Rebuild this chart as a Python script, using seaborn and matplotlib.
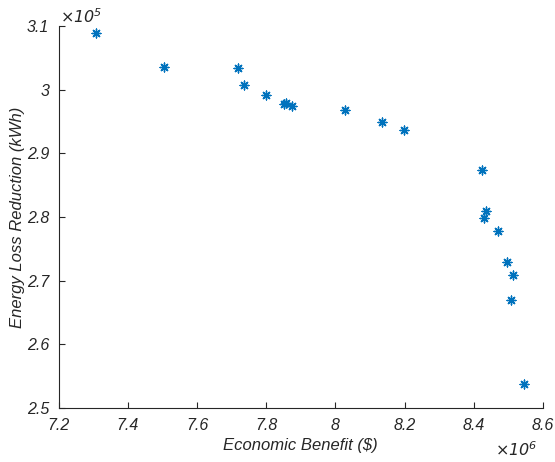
import matplotlib
matplotlib.use('Agg')
import numpy as np
import pandas as pd
import seaborn as sns
from matplotlib import pyplot as plt
from matplotlib.ticker import FuncFormatter

# Pareto front values (x in 1e6 $, y in 1e5 kWh)
economic_benefit = [7.308, 7.504, 7.719, 7.736, 7.799, 7.852, 7.856, 7.874, 8.029,
                    8.134, 8.199, 8.423, 8.435, 8.429, 8.470, 8.497, 8.515, 8.507, 8.545]
energy_reduction = [3.089, 3.036, 3.034, 3.007, 2.992, 2.977, 2.979, 2.974, 2.968,
                    2.949, 2.936, 2.873, 2.809, 2.799, 2.778, 2.729, 2.708, 2.669, 2.537]
x_ticks = [7.2, 7.4, 7.6, 7.8, 8.0, 8.2, 8.4, 8.6]
y_ticks = [2.5, 2.6, 2.7, 2.8, 2.9, 3.0, 3.1]

df = pd.DataFrame({'benefit': np.array(economic_benefit) * 1e6,
                   'reduction': np.array(energy_reduction) * 1e5})

sns.set_style('white')
plt.rcParams['font.family'] = ['Liberation Sans', 'DejaVu Sans']
plt.rcParams['font.style'] = 'italic'

fig = plt.figure(figsize=(5.55, 4.62), dpi=100)
ax = fig.add_axes([0.106, 0.117, 0.872, 0.827])

sns.scatterplot(data=df, x='benefit', y='reduction', ax=ax, marker=(8, 2, 0),
                color='#0072BD', s=40, linewidth=1.0, edgecolor='#0072BD', legend=False)

ax.set_xlim(7.2e6, 8.6e6)
ax.set_ylim(2.5e5, 3.1e5)
ax.set_xticks([v * 1e6 for v in x_ticks])
ax.set_yticks([v * 1e5 for v in y_ticks])
ax.xaxis.set_major_formatter(FuncFormatter(lambda v, p: '%g' % round(v / 1e6, 2)))
ax.yaxis.set_major_formatter(FuncFormatter(lambda v, p: '%g' % round(v / 1e5, 2)))

for s in ['top', 'right']:
    ax.spines[s].set_visible(False)
for s in ['left', 'bottom']:
    ax.spines[s].set_color('#262626')
    ax.spines[s].set_linewidth(0.8)
ax.tick_params(direction='in', length=4, width=0.8, colors='#262626',
               labelsize=11.5, labelcolor='#262626', bottom=True, left=True)
ax.tick_params(axis='x', pad=7)
ax.tick_params(axis='y', pad=7)
for lab in ax.get_xticklabels() + ax.get_yticklabels():
    lab.set_style('italic')

ax.set_xlabel('Economic Benefit ($)', fontsize=12, color='#262626', style='italic', labelpad=4)
ax.set_ylabel('Energy Loss Reduction (kWh)', fontsize=12, color='#262626', style='italic', labelpad=1)

ax.text(0.003, 1.0, r'$\times\mathit{10}^{\mathit{5}}$', transform=ax.transAxes,
        fontsize=11.5, color='#262626', ha='left', va='bottom')
ax.text(0.99, -0.085, r'$\times\mathit{10}^{\mathit{6}}$', transform=ax.transAxes,
        fontsize=11.5, color='#262626', ha='right', va='top')

fig.savefig('out.png', dpi=100)
